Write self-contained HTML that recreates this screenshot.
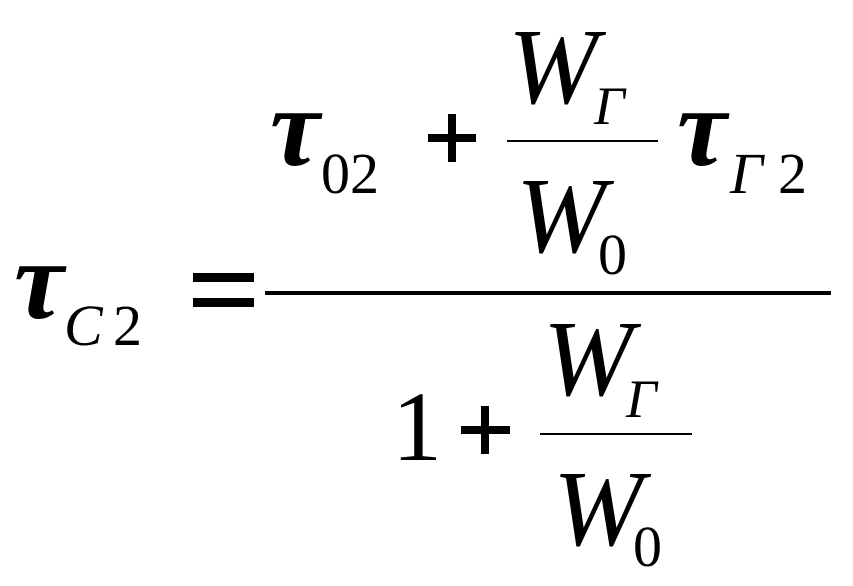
<!DOCTYPE html>
<html><head><meta charset="utf-8"><style>
html,body{margin:0;padding:0;background:#fff;}
svg{display:block}
text{font-family:"Liberation Serif","DejaVu Serif",serif;fill:#000}
.i{font-style:italic}
.b{font-weight:bold}
</style></head><body>
<svg width="853" height="586" viewBox="0 0 853 586" xmlns="http://www.w3.org/2000/svg">
<!-- left side -->
<text x="14" y="318" font-size="112" class="i b">τ</text>
<text x="64" y="345" font-size="58" class="i">C</text>
<text x="113" y="345" font-size="58">2</text>
<rect x="193" y="273" width="61" height="9"/>
<rect x="193" y="298" width="61" height="9"/>
<rect x="265" y="291" width="566" height="4"/>
<!-- numerator -->
<text x="270" y="165" font-size="112" class="i b">τ</text>
<text x="321" y="193" font-size="58">02</text>
<rect x="428" y="134" width="48" height="8"/>
<rect x="448" y="114" width="8" height="48"/>
<text x="508" y="103" font-size="108" class="i">W</text>
<text x="594" y="124" font-size="54" class="i">Γ</text>
<rect x="507" y="140" width="151" height="2"/>
<text x="516" y="252" font-size="108" class="i">W</text>
<text x="598" y="274" font-size="58">0</text>
<text x="677" y="165" font-size="112" class="i b">τ</text>
<text x="730" y="193" font-size="58" class="i">Γ</text>
<text x="778" y="193" font-size="58">2</text>
<!-- denominator -->
<text x="392" y="460" font-size="100">1</text>
<rect x="461" y="426" width="49" height="8"/>
<rect x="481" y="406" width="8" height="48"/>
<text x="543" y="395" font-size="108" class="i">W</text>
<text x="626" y="417" font-size="54" class="i">Γ</text>
<rect x="540" y="433" width="152" height="2"/>
<text x="553" y="545" font-size="108" class="i">W</text>
<text x="633" y="566" font-size="58">0</text>
</svg>
</body></html>
